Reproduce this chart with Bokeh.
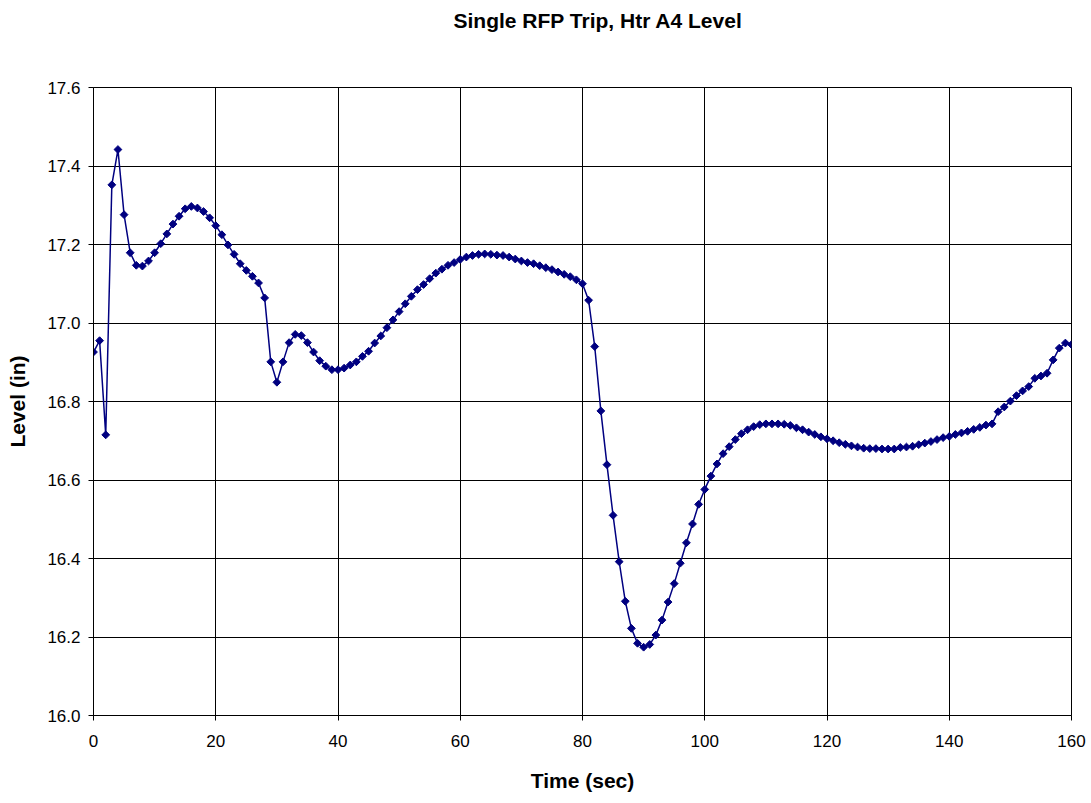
from bokeh.plotting import figure
from bokeh.models import Range1d, FixedTicker, NumeralTickFormatter, ColumnDataSource, Title
from bokeh.embed import file_html
from bokeh.resources import INLINE

# Sample times (s), one reading per second
time_sec = list(range(0, 161))

# Heater A4 level (in)
level_in = [
    16.926, 16.955, 16.715, 17.352, 17.442, 17.276, 17.179, 17.147, 17.145, 17.158,
    17.179, 17.202, 17.227, 17.252, 17.272, 17.291, 17.297, 17.293, 17.284, 17.268,
    17.248, 17.225, 17.199, 17.175, 17.151, 17.134, 17.119, 17.102, 17.064, 16.901,
    16.849, 16.901, 16.950, 16.971, 16.968, 16.950, 16.926, 16.904, 16.890, 16.881,
    16.881, 16.885, 16.893, 16.901, 16.915, 16.928, 16.949, 16.967, 16.988, 17.008,
    17.029, 17.049, 17.068, 17.085, 17.098, 17.113, 17.127, 17.137, 17.147, 17.154,
    17.162, 17.168, 17.172, 17.175, 17.176, 17.175, 17.173, 17.172, 17.168, 17.163,
    17.158, 17.154, 17.151, 17.146, 17.141, 17.136, 17.130, 17.124, 17.118, 17.110,
    17.100, 17.058, 16.940, 16.776, 16.639, 16.510, 16.392, 16.291, 16.222, 16.184,
    16.174, 16.181, 16.205, 16.243, 16.289, 16.336, 16.388, 16.440, 16.488, 16.538,
    16.576, 16.610, 16.641, 16.667, 16.685, 16.703, 16.718, 16.728, 16.736, 16.741,
    16.743, 16.743, 16.743, 16.742, 16.739, 16.733, 16.728, 16.722, 16.716, 16.710,
    16.705, 16.700, 16.695, 16.691, 16.687, 16.684, 16.681, 16.680, 16.680, 16.679,
    16.679, 16.679, 16.683, 16.684, 16.686, 16.690, 16.694, 16.698, 16.703, 16.708,
    16.711, 16.716, 16.720, 16.724, 16.729, 16.734, 16.740, 16.743, 16.774, 16.786,
    16.801, 16.815, 16.827, 16.838, 16.859, 16.865, 16.872, 16.906, 16.936, 16.949,
    16.945,
]

x_ticks = [0, 20, 40, 60, 80, 100, 120, 140, 160]
y_ticks = [16.0, 16.2, 16.4, 16.6, 16.8, 17.0, 17.2, 17.4, 17.6]

FONT = "Liberation Sans"
NAVY = "#000080"

src = ColumnDataSource(dict(t=time_sec, lvl=level_in))

p = figure(
    width=1091, height=803, title=None,
    x_range=Range1d(0, 160), y_range=Range1d(16.0, 17.6),
    output_backend="svg", toolbar_location=None,
    min_border_left=93, min_border_right=20,
    min_border_top=87, min_border_bottom=88,
    background_fill_color="white", border_fill_color="white",
)

# Blank band between the heading and the plot frame
p.add_layout(Title(text=" ", text_font=FONT, text_font_size="21px", standoff=28), "above")
# Heading at the top of the page
p.add_layout(Title(text="Single RFP Trip, Htr A4 Level", text_font=FONT,
                   text_font_size="21px", text_font_style="bold", text_color="black",
                   align="left", offset=360, standoff=6), "above")

p.outline_line_color = "black"
p.outline_line_width = 1

for ax in (p.xaxis[0], p.yaxis[0]):
    ax.axis_line_color = "black"
    ax.major_tick_line_color = "black"
    ax.major_tick_out = 5
    ax.major_tick_in = 0
    ax.minor_tick_line_color = None
    ax.major_label_text_font = FONT
    ax.major_label_text_font_size = "17px"
    ax.major_label_text_color = "black"
    ax.axis_label_text_font = FONT
    ax.axis_label_text_font_size = "21px"
    ax.axis_label_text_font_style = "bold"
    ax.axis_label_text_color = "black"

p.xaxis.ticker = FixedTicker(ticks=x_ticks)
p.yaxis.ticker = FixedTicker(ticks=y_ticks)
p.yaxis.formatter = NumeralTickFormatter(format="0.0")
p.xaxis.axis_label = "Time (sec)"
p.yaxis.axis_label = "Level (in)"
p.xaxis.major_label_standoff = 14
p.yaxis.major_label_standoff = 8
p.xaxis.axis_label_standoff = 19
p.yaxis.axis_label_standoff = 15

p.xgrid.grid_line_color = "black"
p.ygrid.grid_line_color = "black"
p.xgrid.grid_line_width = 1
p.ygrid.grid_line_width = 1

p.line("t", "lvl", source=src, line_color=NAVY, line_width=1.5)
p.scatter("t", "lvl", source=src, marker="square", angle=0.785398,
          size=5.5, fill_color=NAVY, line_color=NAVY)

open("out.html", "w").write(file_html(p, INLINE))
